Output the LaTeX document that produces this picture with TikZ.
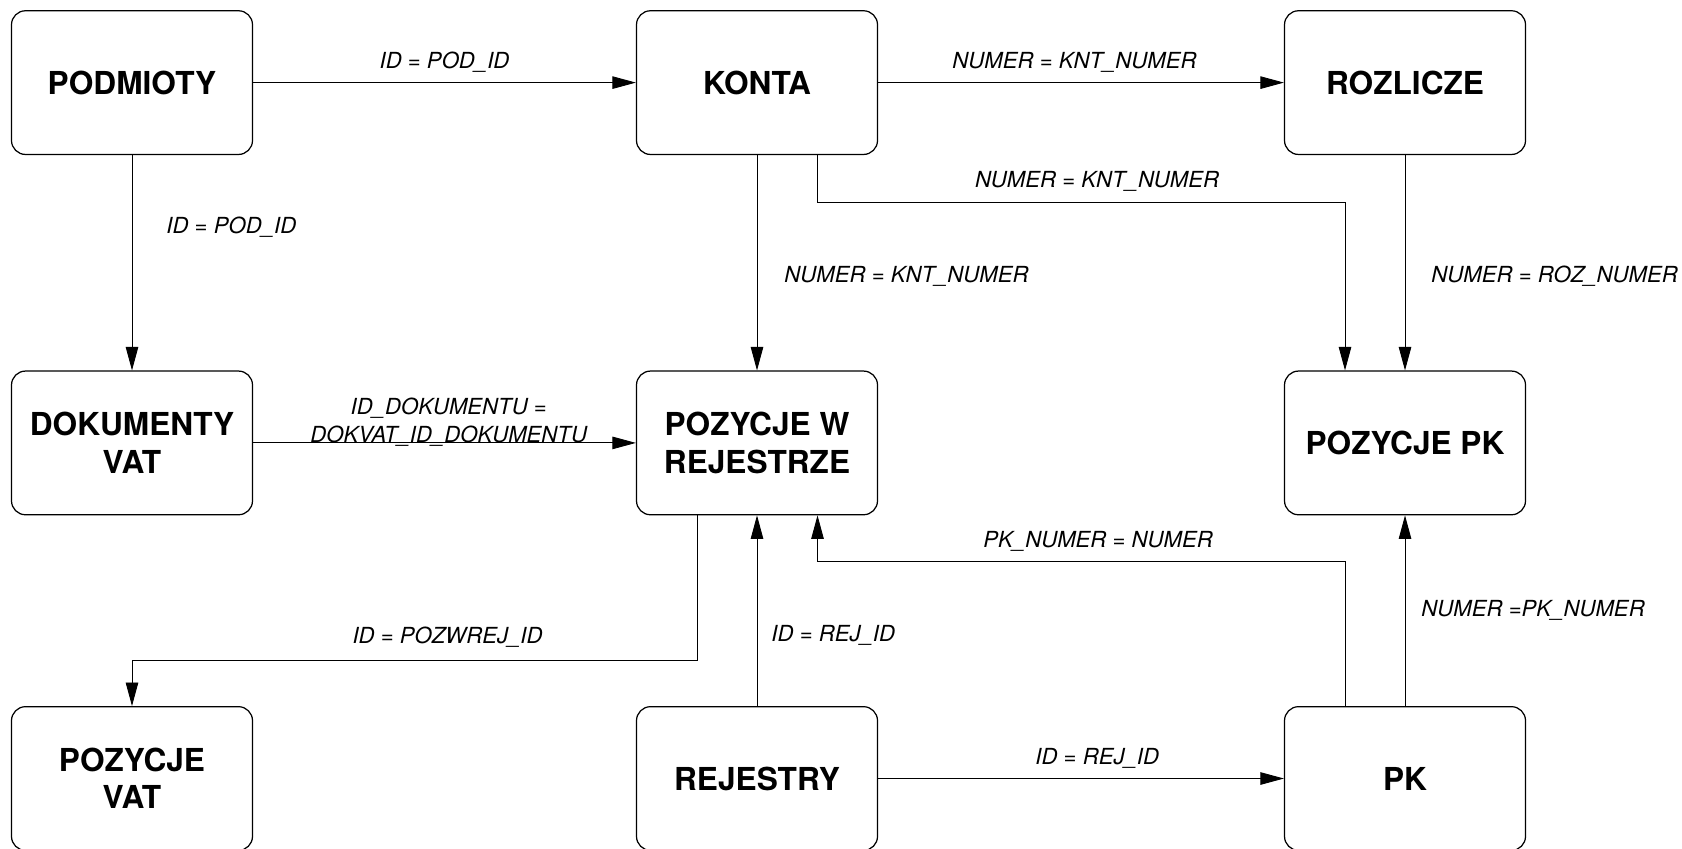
\documentclass[tikz,border=0pt]{standalone}
\usepackage{fontspec}
\setmainfont{TeX Gyre Heros}
\usetikzlibrary{positioning, arrows.meta}

\begin{document}
\begin{tikzpicture}[
    >={Triangle[length=0.47cm, width=0.25cm]},
    % Styles definition
    entity/.style={draw, rectangle, rounded corners=0.28cm, line width=0.7pt,
        minimum width=4.82cm, minimum height=2.874cm, inner sep=0pt, align=center,
        font=\fontsize{18}{21.3}\selectfont\bfseries},
    rel/.style={->, line width=0.5pt},
    lbl/.style={font=\fontsize{12.6}{15.5}\selectfont\itshape, inner sep=0pt}
]
\clip (0,0) rectangle (33.64,-16.96);

% 1. Top row
\node[entity] (podmioty) at (2.64, -1.652) {PODMIOTY};
\node[entity] (konta) at (15.14, -1.652) {KONTA};
\node[entity] (rozlicze) at (28.10, -1.652) {ROZLICZE};

% 2. Middle row
\node[entity] (dokvat) at (2.64, -8.858) {DOKUMENTY\\VAT};
\node[entity] (pozrej) at (15.14, -8.858) {POZYCJE W\\REJESTRZE};
\node[entity] (pozpk) at (28.10, -8.858) {POZYCJE PK};

% 3. Bottom row
\node[entity] (pozvat) at (2.64, -15.57) {POZYCJE\\VAT};
\node[entity] (rejestry) at (15.14, -15.57) {REJESTRY};
\node[entity] (pk) at (28.10, -15.57) {PK};

% --- Relations ---

% Top row
\draw[rel] (podmioty) -- node[lbl, above=0.2cm] {ID = POD\_ID} (konta);
\draw[rel] (konta) -- node[lbl, above=0.2cm, pos=0.484] {NUMER = KNT\_NUMER} (rozlicze);

% Top -> middle
\draw[rel] (podmioty) -- node[lbl, right=0.68cm, pos=0.335] {ID = POD\_ID} (dokvat);
\draw[rel] (konta) -- node[lbl, right=0.54cm, pos=0.562] {NUMER = KNT\_NUMER} (pozrej);
\draw[rel] ([xshift=1.21cm]konta.south) -- ++(0,-0.956) -| node[lbl, above=0.23cm, pos=0.265] {NUMER = KNT\_NUMER} ([xshift=-1.2cm]pozpk.north);
\draw[rel] (rozlicze) -- node[lbl, right=0.52cm, pos=0.562] {NUMER = ROZ\_NUMER} (pozpk);

% Middle row
\draw[rel] (dokvat) -- node[lbl, align=center, above=-0.7mm, pos=0.511] {ID\_DOKUMENTU =\\DOKVAT\_ID\_DOKUMENTU} (pozrej);
\draw[rel] ([xshift=-1.19cm]pozrej.south) -- ++(0,-2.894) -| node[lbl, above=0.25cm, pos=0.221] {ID = POZWREJ\_ID} (pozvat.north);

% Bottom -> middle
\draw[rel] (rejestry) -- node[lbl, right=0.28cm, pos=0.369] {ID = REJ\_ID} (pozrej);
\draw[rel] ([xshift=-1.2cm]pk.north) -- ++(0,2.888) -| node[lbl, above=0.2cm, pos=0.234] {PK\_NUMER = NUMER} ([xshift=1.21cm]pozrej.south);
\draw[rel] (pk) -- node[lbl, right=0.32cm] {NUMER =PK\_NUMER} (pozpk);

% Bottom row
\draw[rel] (rejestry) -- node[lbl, above=0.2cm, pos=0.54] {ID = REJ\_ID} (pk);

\end{tikzpicture}
\end{document}
